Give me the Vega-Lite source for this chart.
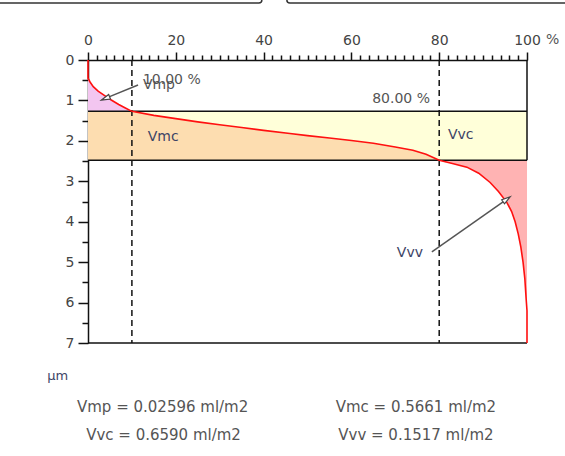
{
  "$schema": "https://vega.github.io/schema/vega-lite/v6.json",
  "width": 439,
  "height": 283,
  "autosize": {"type": "none"},
  "padding": {"left": 88, "top": 60, "right": 38, "bottom": 113},
  "background": "white",
  "config": {
    "view": {"stroke": null},
    "axis": {"domainColor": "#111", "domainWidth": 1.5, "tickColor": "#111", "tickWidth": 1.5, "labelFont": "DejaVu Sans", "labelFontSize": 14, "labelColor": "#444", "grid": false},
    "text": {"font": "DejaVu Sans"}
  },
  "resolve": {"axis": {"x": "independent", "y": "independent"}},
  "datasets": {
    "curve": [
      {"i": 0, "x": 0, "y": 0}, {"i": 1, "x": 0, "y": 0.45}, {"i": 2, "x": 0.5, "y": 0.55}, {"i": 3, "x": 1.2, "y": 0.66},
      {"i": 4, "x": 2.3, "y": 0.77}, {"i": 5, "x": 3.8, "y": 0.88}, {"i": 6, "x": 5.3, "y": 0.99}, {"i": 7, "x": 7, "y": 1.1},
      {"i": 8, "x": 8.4, "y": 1.18}, {"i": 9, "x": 10, "y": 1.27}, {"i": 10, "x": 15, "y": 1.37}, {"i": 11, "x": 20, "y": 1.45},
      {"i": 12, "x": 25, "y": 1.53}, {"i": 13, "x": 30, "y": 1.6}, {"i": 14, "x": 35, "y": 1.67}, {"i": 15, "x": 40, "y": 1.74},
      {"i": 16, "x": 46, "y": 1.82}, {"i": 17, "x": 50, "y": 1.87}, {"i": 18, "x": 55, "y": 1.93}, {"i": 19, "x": 60, "y": 1.99},
      {"i": 20, "x": 65, "y": 2.06}, {"i": 21, "x": 70, "y": 2.15}, {"i": 22, "x": 74, "y": 2.23}, {"i": 23, "x": 77, "y": 2.33},
      {"i": 24, "x": 80, "y": 2.48}, {"i": 25, "x": 83, "y": 2.56}, {"i": 26, "x": 86.3, "y": 2.65}, {"i": 27, "x": 89, "y": 2.8},
      {"i": 28, "x": 91.6, "y": 3.03}, {"i": 29, "x": 93.5, "y": 3.25}, {"i": 30, "x": 95.4, "y": 3.52}, {"i": 31, "x": 96.5, "y": 3.75},
      {"i": 32, "x": 97.3, "y": 4.0}, {"i": 33, "x": 98, "y": 4.3}, {"i": 34, "x": 98.6, "y": 4.63}, {"i": 35, "x": 99.1, "y": 5.0},
      {"i": 36, "x": 99.5, "y": 5.4}, {"i": 37, "x": 99.8, "y": 5.9}, {"i": 38, "x": 100, "y": 6.2}, {"i": 39, "x": 100, "y": 7.0}
    ],
    "vmp": [
      {"x": 0, "y": 0.45, "y2": 1.27}, {"x": 0.5, "y": 0.55, "y2": 1.27}, {"x": 1.2, "y": 0.66, "y2": 1.27}, {"x": 2.3, "y": 0.77, "y2": 1.27},
      {"x": 3.8, "y": 0.88, "y2": 1.27}, {"x": 5.3, "y": 0.99, "y2": 1.27}, {"x": 7, "y": 1.1, "y2": 1.27}, {"x": 8.4, "y": 1.18, "y2": 1.27},
      {"x": 10, "y": 1.27, "y2": 1.27}
    ],
    "vmc": [
      {"x": 0, "y": 1.27, "y2": 2.48}, {"x": 10, "y": 1.27, "y2": 2.48}, {"x": 15, "y": 1.37, "y2": 2.48}, {"x": 20, "y": 1.45, "y2": 2.48},
      {"x": 25, "y": 1.53, "y2": 2.48}, {"x": 30, "y": 1.6, "y2": 2.48}, {"x": 35, "y": 1.67, "y2": 2.48}, {"x": 40, "y": 1.74, "y2": 2.48},
      {"x": 46, "y": 1.82, "y2": 2.48}, {"x": 50, "y": 1.87, "y2": 2.48}, {"x": 55, "y": 1.93, "y2": 2.48}, {"x": 60, "y": 1.99, "y2": 2.48},
      {"x": 65, "y": 2.06, "y2": 2.48}, {"x": 70, "y": 2.15, "y2": 2.48}, {"x": 74, "y": 2.23, "y2": 2.48}, {"x": 77, "y": 2.33, "y2": 2.48},
      {"x": 80, "y": 2.48, "y2": 2.48}
    ],
    "vvv": [
      {"x": 80, "y": 2.48, "y2": 2.48}, {"x": 83, "y": 2.56, "y2": 2.48}, {"x": 86.3, "y": 2.65, "y2": 2.48}, {"x": 89, "y": 2.8, "y2": 2.48},
      {"x": 91.6, "y": 3.03, "y2": 2.48}, {"x": 93.5, "y": 3.25, "y2": 2.48}, {"x": 95.4, "y": 3.52, "y2": 2.48}, {"x": 96.5, "y": 3.75, "y2": 2.48},
      {"x": 97.3, "y": 4.0, "y2": 2.48}, {"x": 98, "y": 4.3, "y2": 2.48}, {"x": 98.6, "y": 4.63, "y2": 2.48}, {"x": 99.1, "y": 5.0, "y2": 2.48},
      {"x": 99.5, "y": 5.4, "y2": 2.48}, {"x": 99.8, "y": 5.9, "y2": 2.48}, {"x": 100, "y": 6.2, "y2": 2.48}
    ]
  },
  "layer": [
    {
      "data": {"values": [{"x": 0, "x2": 100, "y": 1.27, "y2": 2.48}]},
      "mark": {"type": "rect", "color": "#FFFFD9"},
      "encoding": {
        "x": {"field": "x", "type": "quantitative", "scale": {"domain": [0, 100], "nice": false, "zero": false},
          "axis": {"orient": "top", "title": null,
            "values": [0,2,4,6,8,10,12,14,16,18,20,22,24,26,28,30,32,34,36,38,40,42,44,46,48,50,52,54,56,58,60,62,64,66,68,70,72,74,76,78,80,82,84,86,88,90,92,94,96,98,100],
            "labelExpr": "datum.value % 20 == 0 ? datum.label : ''",
            "tickSize": {"condition": {"test": "datum.value % 20 == 0", "value": 8}, "value": 5},
            "labelPadding": 5, "labelOverlap": false, "labelFlush": false}},
        "x2": {"field": "x2"},
        "y": {"field": "y", "type": "quantitative", "scale": {"domain": [0, 7], "nice": false, "zero": false, "reverse": true},
          "axis": {"title": null,
            "values": [0,0.5,1,1.5,2,2.5,3,3.5,4,4.5,5,5.5,6,6.5,7],
            "labelExpr": "datum.value % 1 == 0 ? format(datum.value, 'd') : ''",
            "tickSize": {"condition": {"test": "datum.value % 1 == 0", "value": 10}, "value": 6},
            "labelPadding": 4, "labelOverlap": false, "labelFlush": false}},
        "y2": {"field": "y2"}
      }
    },
    {
      "data": {"name": "vmc"},
      "mark": {"type": "area", "fill": "#FDDDB0", "fillOpacity": 1},
      "encoding": {
        "x": {"field": "x", "type": "quantitative", "axis": null},
        "y": {"field": "y", "type": "quantitative", "axis": null},
        "y2": {"field": "y2"}
      }
    },
    {
      "data": {"name": "vmp"},
      "mark": {"type": "area", "fill": "#F3C6F0", "fillOpacity": 1},
      "encoding": {
        "x": {"field": "x", "type": "quantitative", "axis": null},
        "y": {"field": "y", "type": "quantitative", "axis": null},
        "y2": {"field": "y2"}
      }
    },
    {
      "data": {"name": "vvv"},
      "mark": {"type": "area", "fill": "#FFB3B3", "fillOpacity": 1},
      "encoding": {
        "x": {"field": "x", "type": "quantitative", "axis": null},
        "y": {"field": "y", "type": "quantitative", "axis": null},
        "y2": {"field": "y2"}
      }
    },
    {
      "data": {"values": [{"y": 1.27}, {"y": 2.48}]},
      "mark": {"type": "rule", "color": "#111", "strokeWidth": 1.5},
      "encoding": {
        "y": {"field": "y", "type": "quantitative", "axis": null},
        "x": {"datum": 0, "axis": null},
        "x2": {"datum": 100}
      }
    },
    {
      "data": {"values": [{"x": 0, "x2": 100, "y": 7, "y2": 7}, {"x": 100, "x2": 100, "y": 0, "y2": 2.48}]},
      "mark": {"type": "rule", "color": "#111", "strokeWidth": 1.5},
      "encoding": {
        "x": {"field": "x", "type": "quantitative", "axis": null},
        "x2": {"field": "x2"},
        "y": {"field": "y", "type": "quantitative", "axis": null},
        "y2": {"field": "y2"}
      }
    },
    {
      "data": {"values": [{"x": 10}, {"x": 80}]},
      "mark": {"type": "rule", "color": "#111", "strokeWidth": 1.5, "strokeDash": [6, 4]},
      "encoding": {
        "x": {"field": "x", "type": "quantitative", "axis": null},
        "y": {"datum": 0, "axis": null},
        "y2": {"datum": 7}
      }
    },
    {
      "data": {"name": "curve"},
      "mark": {"type": "line", "color": "#FF1010", "strokeWidth": 1.6},
      "encoding": {
        "x": {"field": "x", "type": "quantitative", "axis": null},
        "y": {"field": "y", "type": "quantitative", "axis": null},
        "order": {"field": "i"}
      }
    },
    {
      "data": {"values": [{"x": 11.4, "y": 0.62, "x2": 4.92, "y2": 0.907}, {"x": 78.33, "y": 4.745, "x2": 94.55, "y2": 3.51}]},
      "mark": {"type": "rule", "color": "#555", "strokeWidth": 1.5},
      "encoding": {
        "x": {"field": "x", "type": "quantitative", "axis": null},
        "x2": {"field": "x2"},
        "y": {"field": "y", "type": "quantitative", "axis": null},
        "y2": {"field": "y2"}
      }
    },
    {
      "data": {"values": [{"x": 4.22, "y": 0.94}]},
      "mark": {"type": "point", "shape": "M0,-1L0.45,0.6L-0.45,0.6Z", "size": 120, "angle": 248, "filled": true, "fill": "white", "stroke": "#444", "strokeWidth": 1.2, "opacity": 1},
      "encoding": {
        "x": {"field": "x", "type": "quantitative", "axis": null},
        "y": {"field": "y", "type": "quantitative", "axis": null}
      }
    },
    {
      "data": {"values": [{"x": 95.17, "y": 3.46}]},
      "mark": {"type": "point", "shape": "M0,-1L0.45,0.6L-0.45,0.6Z", "size": 120, "angle": 55, "filled": true, "fill": "white", "stroke": "#444", "strokeWidth": 1.2, "opacity": 1},
      "encoding": {
        "x": {"field": "x", "type": "quantitative", "axis": null},
        "y": {"field": "y", "type": "quantitative", "axis": null}
      }
    },
    {
      "data": {"values": [{"label": "10.00 %", "x": 12.5, "y": 0.5}, {"label": "Vmp", "x": 12.5, "y": 0.62}, {"label": "%", "x": 104.3, "y": -0.49}]},
      "mark": {"type": "text", "align": "left", "baseline": "middle", "fontSize": 14, "color": "#555"},
      "encoding": {
        "x": {"field": "x", "type": "quantitative", "axis": null},
        "y": {"field": "y", "type": "quantitative", "axis": null},
        "text": {"field": "label"}
      }
    },
    {
      "data": {"values": [{"label": "80.00 %", "x": 77.9, "y": 0.965}]},
      "mark": {"type": "text", "align": "right", "baseline": "middle", "fontSize": 14, "color": "#555"},
      "encoding": {
        "x": {"field": "x", "type": "quantitative", "axis": null},
        "y": {"field": "y", "type": "quantitative", "axis": null},
        "text": {"field": "label"}
      }
    },
    {
      "data": {"values": [{"label": "Vmc", "x": 13.6, "y": 1.9}, {"label": "Vvc", "x": 82.0, "y": 1.86}]},
      "mark": {"type": "text", "align": "left", "baseline": "middle", "fontSize": 14, "color": "#3D4466"},
      "encoding": {
        "x": {"field": "x", "type": "quantitative", "axis": null},
        "y": {"field": "y", "type": "quantitative", "axis": null},
        "text": {"field": "label"}
      }
    },
    {
      "data": {"values": [{"label": "Vvv", "x": 76.3, "y": 4.78}]},
      "mark": {"type": "text", "align": "right", "baseline": "middle", "fontSize": 14, "color": "#3D4466"},
      "encoding": {
        "x": {"field": "x", "type": "quantitative", "axis": null},
        "y": {"field": "y", "type": "quantitative", "axis": null},
        "text": {"field": "label"}
      }
    },
    {
      "data": {"values": [{"label": "µm", "x": -9.3, "y": 7.82}]},
      "mark": {"type": "text", "align": "left", "baseline": "middle", "fontSize": 13, "color": "#3D4466"},
      "encoding": {
        "x": {"field": "x", "type": "quantitative", "axis": null},
        "y": {"field": "y", "type": "quantitative", "axis": null},
        "text": {"field": "label"}
      }
    },
    {
      "data": {"values": [
        {"label": "Vmp = 0.02596 ml/m2", "x": 17.0, "y": 8.59},
        {"label": "Vmc = 0.5661 ml/m2", "x": 74.7, "y": 8.59},
        {"label": "Vvc = 0.6590 ml/m2", "x": 17.2, "y": 9.28},
        {"label": "Vvv = 0.1517 ml/m2", "x": 74.7, "y": 9.28}
      ]},
      "mark": {"type": "text", "align": "center", "baseline": "middle", "fontSize": 15, "color": "#555"},
      "encoding": {
        "x": {"field": "x", "type": "quantitative", "axis": null},
        "y": {"field": "y", "type": "quantitative", "axis": null},
        "text": {"field": "label"}
      }
    },
    {
      "data": {"values": [{"x": -25, "x2": 39.6, "y": -3, "y2": -1.41}, {"x": 45.3, "x2": 115, "y": -3, "y2": -1.41}]},
      "mark": {"type": "rect", "fill": null, "fillOpacity": 0, "stroke": "#333", "strokeWidth": 1.5, "cornerRadius": 3},
      "encoding": {
        "x": {"field": "x", "type": "quantitative", "axis": null},
        "x2": {"field": "x2"},
        "y": {"field": "y", "type": "quantitative", "axis": null},
        "y2": {"field": "y2"}
      }
    }
  ]
}
